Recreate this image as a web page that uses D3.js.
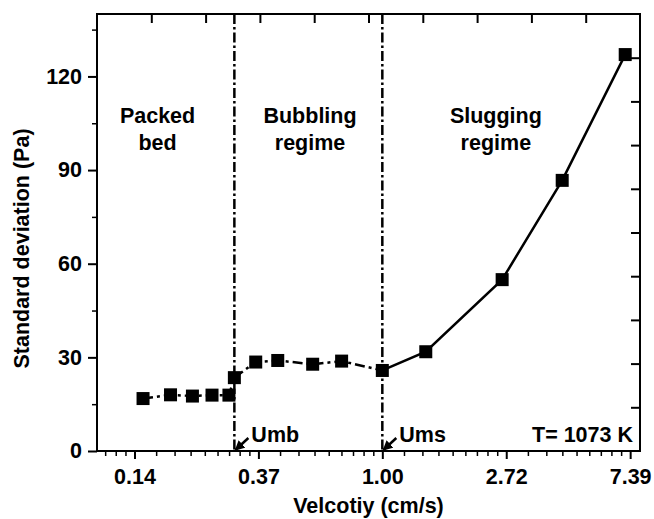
<!DOCTYPE html>
<html>
<head>
<meta charset="utf-8">
<script src="https://cdn.jsdelivr.net/npm/d3@7"></script>
<style>
  body { margin: 0; background: #fff; }
  text { font-family: Arial, "Liberation Sans", sans-serif; font-weight: bold; fill: #000; }
</style>
</head>
<body>
<div id="chart"></div>
<script>
// velocity (cm/s) and standard deviation of pressure (Pa)
const packedVel = [0.145, 0.181, 0.216, 0.253, 0.290, 0.303, 0.36, 0.43, 0.57, 0.72, 1.00];
const packedStd = [16.8, 18.0, 17.6, 17.9, 17.9, 23.5, 28.5, 29.0, 27.8, 28.8, 25.8];
const slugVel = [1.00, 1.42, 2.63, 4.27, 7.1];
const slugStd = [25.8, 31.8, 54.9, 86.7, 127];

const xTicks = [Math.exp(-2), Math.exp(-1), 1, Math.E, Math.exp(2)];
const yTicks = [0, 30, 60, 90, 120];
const umb = 0.303, ums = 1.00;

const regions = [
  { lines: ["Packed", "bed"], x: 0.163 },
  { lines: ["Bubbling", "regime"], x: 0.558 },
  { lines: ["Slugging", "regime"], x: 2.5 }
];

const W = 654, H = 519;
const m = { left: 97, right: 14, top: 14, bottom: 68 };
const w = W - m.left - m.right, h = H - m.top - m.bottom;
const fs = "21.5px";

const svg = d3.select("#chart").append("svg").attr("width", W).attr("height", H);
const g = svg.append("g").attr("transform", `translate(${m.left},${m.top})`);

const x = d3.scaleLog().base(Math.E).domain([0.1, 8]).range([0, w]);
const y = d3.scaleLinear().domain([0, 140]).range([h, 0]);

// minor x ticks: 8 linear steps between each pair of e^n
let xMinor = [];
for (let n = -3; n < 2; n++) {
  const a = Math.exp(n), b = Math.exp(n + 1);
  for (let k = 1; k < 9; k++) {
    const v = a + k * (b - a) / 9;
    if (v >= 0.1 && v <= 8) xMinor.push(v);
  }
}
const yMinor = d3.range(15, 140, 30);

// bottom axis
g.append("g").attr("transform", `translate(0,${h})`)
  .call(d3.axisBottom(x).tickValues(xMinor).tickSize(5).tickFormat(""))
  .call(a => a.select(".domain").remove())
  .selectAll("line").attr("stroke-width", 1.5);
const xb = g.append("g").attr("transform", `translate(0,${h})`)
  .call(d3.axisBottom(x).tickValues(xTicks).tickSize(8).tickPadding(10).tickFormat(d3.format(".2f")));
xb.select(".domain").remove();
xb.selectAll("line").attr("stroke-width", 2);
xb.selectAll("text").style("font-size", fs).attr("font-family", null);

// left axis
g.append("g")
  .call(d3.axisLeft(y).tickValues(yMinor).tickSize(5).tickFormat(""))
  .call(a => a.select(".domain").remove())
  .selectAll("line").attr("stroke-width", 1.5);
const yl = g.append("g")
  .call(d3.axisLeft(y).tickValues(yTicks).tickSize(9).tickPadding(6));
yl.select(".domain").remove();
yl.selectAll("line").attr("stroke-width", 2);
yl.selectAll("text").style("font-size", fs).attr("font-family", null);

// top and right axes: 10 even divisions, ticks inward
const xTop = d3.scaleLinear().domain([0, 10]).range([0, w]);
const yRight = d3.scaleLinear().domain([0, 10]).range([h, 0]);
g.append("g")
  .call(d3.axisTop(xTop).tickValues(d3.range(1, 10)).tickSize(-9).tickFormat(""))
  .call(a => a.select(".domain").remove())
  .selectAll("line").attr("stroke-width", 2);
g.append("g").attr("transform", `translate(${w},0)`)
  .call(d3.axisRight(yRight).tickValues(d3.range(1, 10)).tickSize(-9).tickFormat(""))
  .call(a => a.select(".domain").remove())
  .selectAll("line").attr("stroke-width", 2);

// frame
g.append("rect").attr("width", w).attr("height", h)
  .attr("fill", "none").attr("stroke", "#000").attr("stroke-width", 2);

// regime boundaries
[umb, ums].forEach(v => {
  g.append("line").attr("x1", x(v)).attr("x2", x(v)).attr("y1", 0).attr("y2", h)
    .attr("stroke", "#000").attr("stroke-width", 2.5)
    .attr("stroke-dasharray", "10,3,2.5,3");
});

// arrows to Umb / Ums
svg.append("defs").append("marker").attr("id", "ah")
  .attr("viewBox", "0 0 10 10").attr("refX", 9).attr("refY", 5)
  .attr("markerWidth", 4).attr("markerHeight", 4).attr("orient", "auto")
  .append("path").attr("d", "M0,0L10,5L0,10Z").attr("fill", "#000");
[[umb, "Umb"], [ums, "Ums"]].forEach(([v, t]) => {
  const px = x(v);
  g.append("line").attr("x1", px + 14).attr("y1", h - 13).attr("x2", px + 1).attr("y2", h - 1)
    .attr("stroke", "#000").attr("stroke-width", 2.5).attr("marker-end", "url(#ah)");
  g.append("text").attr("x", px + 17).attr("y", h - 9).style("font-size", fs).text(t);
});

g.append("text").attr("x", w - 7).attr("y", h - 9).attr("text-anchor", "end")
  .style("font-size", fs).text("T= 1073 K");

// region labels
regions.forEach(r => {
  const t = g.append("text").attr("text-anchor", "middle").style("font-size", fs);
  r.lines.forEach((s, i) => {
    t.append("tspan").attr("x", x(r.x)).attr("y", 109 + i * 27).text(s);
  });
});

// data lines
const line = d3.line().x(d => x(d[0])).y(d => y(d[1]));
const packed = packedVel.map((v, i) => [v, packedStd[i]]);
const slug = slugVel.map((v, i) => [v, slugStd[i]]);
g.append("path").datum(packed).attr("d", line).attr("fill", "none")
  .attr("stroke", "#000").attr("stroke-width", 2.5).attr("stroke-dasharray", "10,4,3,4");
g.append("path").datum(slug).attr("d", line).attr("fill", "none")
  .attr("stroke", "#000").attr("stroke-width", 2.5);

const pts = packed.concat(slug.slice(1));
g.selectAll("rect.pt").data(pts).enter().append("rect").attr("class", "pt")
  .attr("x", d => x(d[0]) - 6.5).attr("y", d => y(d[1]) - 6.5)
  .attr("width", 13).attr("height", 13).attr("fill", "#000");

// axis titles
svg.append("text").attr("x", m.left + w / 2).attr("y", 513).attr("text-anchor", "middle")
  .style("font-size", fs).text("Velcotiy (cm/s)");
svg.append("text").attr("transform", `translate(29,${m.top + h / 2 + 16}) rotate(-90)`)
  .attr("text-anchor", "middle").style("font-size", fs).text("Standard deviation (Pa)");
</script>
</body>
</html>
